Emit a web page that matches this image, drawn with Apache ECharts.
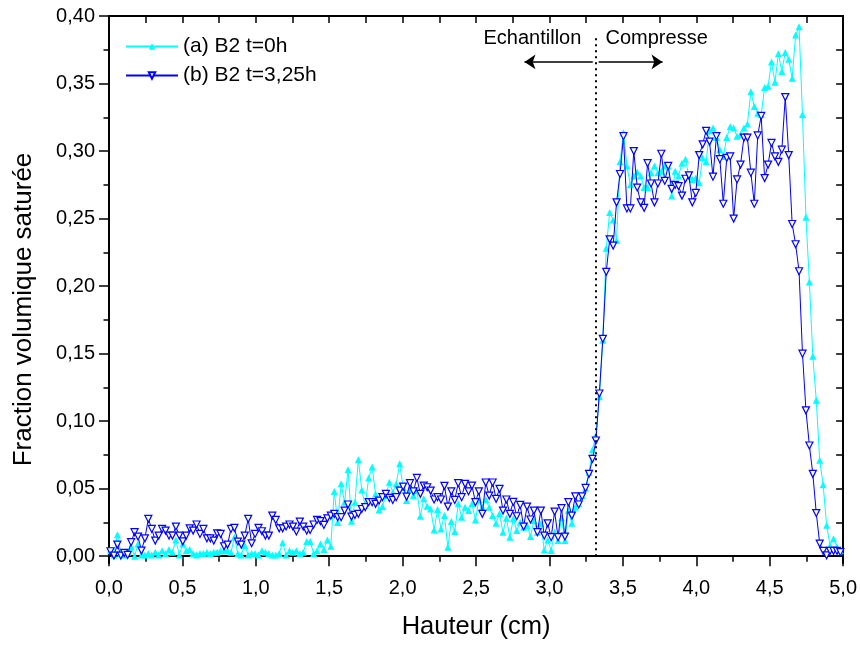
<!DOCTYPE html>
<html>
<head>
<meta charset="utf-8">
<script src="https://cdn.jsdelivr.net/npm/echarts@6/dist/echarts.min.js"></script>
<style>
html,body{margin:0;padding:0;background:#fff;}
#chart{width:860px;height:646px;}
</style>
</head>
<body>
<div id="chart"></div>
<script>
// Sampling grid along the height axis (cm)
const hauteurStart = 0.01;
const hauteurStep = 0.02345;

// (a) B2 t=0h
const fractionA = [
0.004,0.001,0.016,0.002,0.001,0.003,0.007,0.000,0.009,0.001,
0.001,0.002,0.001,0.003,0.001,0.004,0.002,0.005,0.003,0.012,
0.001,0.009,0.004,0.005,0.002,0.001,0.002,0.002,0.003,0.002,
0.003,0.003,0.004,0.004,0.004,0.003,0.014,0.002,0.001,0.008,
0.001,0.002,0.002,0.001,0.004,0.003,0.002,0.001,0.001,0.002,
0.010,0.001,0.004,0.003,0.004,0.002,0.003,0.011,0.011,0.002,
0.004,0.009,0.005,0.012,0.0074,0.048,0.025,0.0536,0.040,0.064,
0.026,0.040,0.0714,0.049,0.0375,0.058,0.066,0.046,0.0343,0.0368,
0.045,0.0548,0.0474,0.0536,0.0684,0.0511,0.0412,0.0499,0.045,0.0486,
0.0296,0.0425,0.037,0.035,0.0195,0.0346,0.0202,0.0301,0.0067,0.0257,
0.0183,0.0388,0.0289,0.0363,0.0338,0.0388,0.0269,0.0417,0.0363,0.042,
0.0363,0.0301,0.0244,0.0314,0.0178,0.0281,0.0141,0.0277,0.019,0.0252,
0.0215,0.0227,0.0146,0.0264,0.0178,0.024,0.0047,0.0121,0.0042,0.0178,
0.0116,0.0284,0.0116,0.0338,0.0244,0.0363,0.0388,0.045,0.0506,0.0622,
0.0788,0.0894,0.118,0.160,0.228,0.2546,0.249,0.234,0.292,0.3136,
0.289,0.275,0.2815,0.2845,0.2815,0.273,0.273,0.284,0.289,0.284,
0.285,0.289,0.289,0.2667,0.285,0.2815,0.291,0.294,0.2815,0.279,
0.280,0.2765,0.295,0.292,0.315,0.317,0.31,0.301,0.296,0.31,
0.318,0.317,0.311,0.312,0.317,0.320,0.344,0.333,0.328,0.327,
0.347,0.348,0.366,0.351,0.372,0.359,0.373,0.368,0.354,0.386,
0.392,0.327,0.251,0.203,0.148,0.1155,0.071,0.053,0.023,0.008,
0.013,0.007,0.004
];

// (b) B2 t=3,25h
const fractionB = [
0.0037,0.0005,0.0086,0.0005,0.0025,0.001,0.0104,0.0178,0.0146,0.0042,
0.0133,0.0277,0.0202,0.0116,0.0153,0.0202,0.019,0.0153,0.0153,0.022,
0.0153,0.011,0.0153,0.0207,0.019,0.0235,0.0165,0.0202,0.0133,0.0133,
0.0116,0.017,0.0165,0.0074,0.0086,0.0202,0.021,0.0109,0.0086,0.0153,
0.0277,0.0096,0.0165,0.021,0.0185,0.0153,0.0153,0.0301,0.0269,0.0207,
0.0207,0.022,0.0235,0.022,0.0183,0.0257,0.022,0.019,0.0195,0.0235,
0.0269,0.026,0.0232,0.0281,0.0301,0.0314,0.0289,0.0289,0.0338,0.0383,
0.0294,0.0306,0.0314,0.035,0.0363,0.040,0.040,0.0388,0.0412,0.0437,
0.0462,0.0432,0.0417,0.0437,0.0486,0.0516,0.0442,0.0541,0.0481,0.058,
0.0462,0.0523,0.0511,0.0486,0.042,0.0437,0.042,0.0521,0.0368,0.0481,
0.0417,0.0541,0.0437,0.0536,0.0481,0.0523,0.040,0.0481,0.0314,0.0546,
0.0449,0.0546,0.0425,0.0499,0.0338,0.042,0.0314,0.0402,0.0296,0.038,
0.022,0.0368,0.0272,0.0338,0.0178,0.0338,0.0153,0.0244,0.0141,0.0331,
0.0141,0.0356,0.0146,0.040,0.0301,0.0444,0.0383,0.0444,0.0506,0.061,
0.0721,0.0857,0.1205,0.161,0.2106,0.2346,0.230,0.262,0.283,0.311,
0.2575,0.2575,0.300,0.273,0.262,0.258,0.291,0.276,0.262,0.276,
0.298,0.278,0.289,0.272,0.275,0.274,0.267,0.2795,0.282,0.262,
0.269,0.297,0.305,0.315,0.307,0.281,0.311,0.294,0.261,0.295,
0.296,0.250,0.279,0.290,0.310,0.310,0.284,0.261,0.3116,0.326,
0.280,0.290,0.306,0.296,0.292,0.301,0.340,0.297,0.246,0.231,
0.211,0.150,0.108,0.082,0.061,0.032,0.0094,0.004,0.0007,0.004,
0.004,0.004,0.003
];

const seriesNames = ['(a) B2 t=0h', '(b) B2 t=3,25h'];
const yMajorTicks = [0, 0.05, 0.10, 0.15, 0.20, 0.25, 0.30, 0.35, 0.40];
const yMinorTicks = [0.025, 0.075, 0.125, 0.175, 0.225, 0.275, 0.325, 0.375];
const yAllTicks = [0,0.025,0.05,0.075,0.10,0.125,0.15,0.175,0.20,0.225,0.25,0.275,0.30,0.325,0.35,0.375,0.40];

// Annotation positions (data coordinates)
const boundaryX = 3.318;
const boundaryTop = 0.385;
const arrowY = 0.366;
const leftArrow = [3.295, 2.83];
const rightArrow = [3.335, 3.77];
const labelEchantillon = {text: 'Echantillon', x: 2.884, y: 0.3835};
const labelCompresse = {text: 'Compresse', x: 3.73, y: 0.3835};

function pairs(vals){
  return vals.map((v,i)=>[hauteurStart + i*hauteurStep, v]);
}

const FONT = 'Liberation Sans, Arial, sans-serif';
const yMin = -0.005, yMax = 0.40;

const chart = echarts.init(document.getElementById('chart'), null, {renderer:'canvas'});
chart.setOption({
  animation: false,
  backgroundColor: '#fff',
  textStyle: {fontFamily: FONT},
  grid: {left: 109, right: 16, top: 16, bottom: 83, containLabel: false},
  legend: {
    orient: 'vertical',
    left: 120, top: 31,
    itemWidth: 52, itemHeight: 8, itemGap: 8,
    textStyle: {fontFamily: FONT, fontSize: 21, color: '#000', padding:[0,0,0,0]},
    data: seriesNames
  },
  xAxis: [{
    type: 'value', min: 0, max: 5, interval: 0.5,
    position: 'bottom',
    axisLine: {show: true, lineStyle: {color: '#000', width: 2}},
    axisTick: {show: true, inside: false, length: 10, lineStyle: {color:'#000', width: 1.5}},
    minorTick: {show: true, splitNumber: 2, length: 5.5, lineStyle: {color:'#000', width: 1.5}},
    axisLabel: {show: true, margin: 15, fontSize: 20, color: '#000', fontFamily: FONT,
      formatter: v => v.toFixed(1).replace('.', ',')},
    splitLine: {show: false},
    name: 'Hauteur (cm)', nameLocation: 'middle', nameGap: 51,
    nameTextStyle: {fontSize: 25.5, color: '#000', fontFamily: FONT}
  },{
    type: 'value', min: 0, max: 5, interval: 0.25,
    position: 'top',
    axisLine: {show: true, onZero: false, lineStyle: {color: '#000', width: 2}},
    axisTick: {show: true, inside: true, length: 7, lineStyle: {color:'#000', width: 1.5}},
    axisLabel: {show: false},
    splitLine: {show: false}
  }],
  yAxis: [{
    type: 'value', min: yMin, max: yMax, position: 'left',
    axisLine: {show: true, onZero: false, lineStyle: {color: '#000', width: 2}},
    axisTick: {show: true, inside: false, length: 10, customValues: yMajorTicks, lineStyle: {color:'#000', width: 1.5}},
    axisLabel: {show: true, margin: 14, fontSize: 20, color: '#000', fontFamily: FONT, customValues: yMajorTicks,
      formatter: v => v.toFixed(2).replace('.', ',')},
    splitLine: {show: false},
    name: 'Fraction volumique saturée', nameLocation: 'middle', nameGap: 72, nameRotate: 90,
    nameTextStyle: {fontSize: 26, color: '#000', fontFamily: FONT, padding: [0, 40, 0, 0]}
  },{
    type: 'value', min: yMin, max: yMax, position: 'left',
    axisLine: {show: false},
    axisTick: {show: true, inside: false, length: 5.5, customValues: yMinorTicks, lineStyle: {color:'#000', width: 1.5}},
    axisLabel: {show: false},
    splitLine: {show: false}
  },{
    type: 'value', min: yMin, max: yMax, position: 'right',
    axisLine: {show: true, onZero: false, lineStyle: {color: '#000', width: 2}},
    axisTick: {show: true, inside: true, length: 7, customValues: yAllTicks, lineStyle: {color:'#000', width: 1.5}},
    axisLabel: {show: false},
    splitLine: {show: false}
  }],
  series: [{
    name: seriesNames[0], type: 'line', xAxisIndex: 0, yAxisIndex: 0,
    data: pairs(fractionA),
    symbol: 'triangle', symbolSize: 7, showSymbol: true,
    itemStyle: {color: '#00FFFF'},
    lineStyle: {color: '#00FFFF', width: 1},
    z: 2,
    markLine: {
      silent: true, animation: false,
      label: {show: false},
      symbol: ['none', 'none'],
      lineStyle: {color: '#000', width: 2, type: [2, 4]},
      data: [[{coord: [boundaryX, 0]}, {coord: [boundaryX, boundaryTop]}]]
    },
    markPoint: {
      silent: true, animation: false,
      symbol: 'circle', symbolSize: 0,
      label: {show: true, position: 'inside', color: '#000', fontSize: 20, fontFamily: FONT,
        formatter: p => p.name},
      data: [
        {name: labelEchantillon.text, coord: [labelEchantillon.x, labelEchantillon.y]},
        {name: labelCompresse.text, coord: [labelCompresse.x, labelCompresse.y]}
      ]
    }
  },{
    name: seriesNames[1], type: 'line', xAxisIndex: 0, yAxisIndex: 0,
    data: pairs(fractionB),
    symbol: 'triangle', symbolRotate: 180, symbolSize: 7, showSymbol: true,
    itemStyle: {color: '#ffffff', borderColor: '#0000FF', borderWidth: 1.2},
    lineStyle: {color: '#0000FF', width: 1},
    z: 3,
    markLine: {
      silent: true, animation: false,
      label: {show: false},
      symbol: ['none', 'arrow'], symbolSize: 11,
      lineStyle: {color: '#000', width: 1.5, type: 'solid'},
      data: [
        [{coord: [leftArrow[0], arrowY]}, {coord: [leftArrow[1], arrowY]}],
        [{coord: [rightArrow[0], arrowY]}, {coord: [rightArrow[1], arrowY]}]
      ]
    }
  }]
});
</script>
</body>
</html>
